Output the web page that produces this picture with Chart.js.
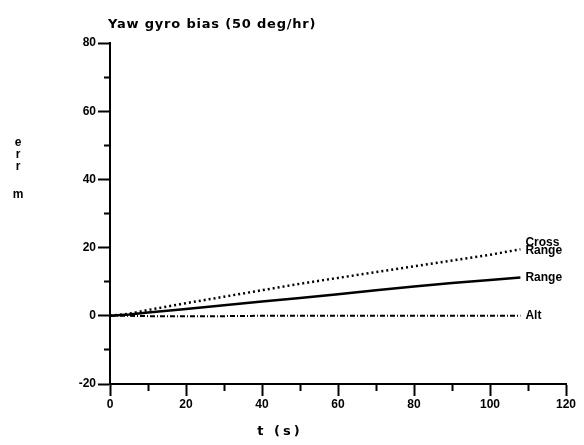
<!DOCTYPE html>
<html>
<head>
<meta charset="utf-8">
<script src="https://cdn.jsdelivr.net/npm/chart.js@4.4.1/dist/chart.umd.min.js"></script>
<style>
  * { margin: 0; padding: 0; box-sizing: border-box; }
  body { width: 584px; height: 445px; background: #fff; overflow: hidden; }
  .chart-box { position: relative; width: 584px; height: 445px; }
</style>
</head>
<body>
<div class="chart-box"><canvas id="chartCanvas" width="584" height="445"></canvas></div>
<script>
// time (s)
const times = [0, 5, 10, 20, 30, 40, 50, 60, 70, 80, 90, 100, 108];
// position error (m)
const crossRange = [0, 0.6, 1.7, 3.7, 5.6, 7.5, 9.4, 11.1, 12.8, 14.5, 16.2, 17.9, 19.5];
const range = [0, 0.4, 1.0, 2.0, 3.1, 4.2, 5.2, 6.3, 7.5, 8.6, 9.6, 10.5, 11.2];
const alt = [0, 0, -0.1, -0.1, -0.1, 0, 0, 0, 0, 0, 0, 0, 0];

const seriesNames = [['Cross', 'Range'], ['Range'], ['Alt']];
const titleText = 'Yaw gyro bias (50 deg/hr)';
const yTitleLetters = ['e', 'r', 'r', 'm'];
const xTitleText = 't (s)';

const FONT = '"Liberation Sans", Arial, sans-serif';

const toPoints = vals => vals.map((v, i) => ({x: times[i], y: v}));

// labels at the end of each line, title and axis titles
const textPlugin = {
  id: 'plotText',
  afterDraw(chart) {
    const ctx = chart.ctx;
    const xs = chart.scales.x;
    const ys = chart.scales.y;
    ctx.save();
    ctx.fillStyle = '#000';

    // line end labels
    ctx.font = 'bold 12px ' + FONT;
    ctx.textBaseline = 'middle';
    ctx.textAlign = 'left';
    chart.data.datasets.forEach((ds, i) => {
      const last = ds.data[ds.data.length - 1];
      const px = xs.getPixelForValue(last.x) + 5;
      const py = ys.getPixelForValue(last.y);
      const lines = seriesNames[i];
      if (lines.length === 2) {
        ctx.fillText(lines[0], px, py - 7);
        ctx.fillText(lines[1], px, py + 1);
      } else {
        ctx.fillText(lines[0], px, py);
      }
    });

    // title
    ctx.font = 'bold 13px "DejaVu Sans", sans-serif';
    ctx.letterSpacing = '0.8px';
    ctx.textBaseline = 'alphabetic';
    ctx.fillText(titleText, 108, 28);

    // y title, letters stacked
    ctx.letterSpacing = '0px';
    ctx.font = 'bold 12px ' + FONT;
    ctx.textAlign = 'center';
    ctx.textBaseline = 'middle';
    const offs = [0, 12, 24, 52];
    yTitleLetters.forEach((ch, i) => {
      ctx.fillText(ch, 18, 143 + offs[i]);
    });

    // x title
    ctx.font = 'bold 13px "DejaVu Sans", sans-serif';
    ctx.letterSpacing = '3px';
    ctx.fillText(xTitleText, 280, 432);
    ctx.restore();
  }
};

const isMinor = c => c.tick && c.tick.value % 20 !== 0;

new Chart(document.getElementById('chartCanvas'), {
  type: 'line',
  data: {
    datasets: [
      {
        label: 'Cross Range',
        data: toPoints(crossRange),
        borderColor: '#000',
        borderWidth: 2.5,
        borderDash: [2, 3],
        pointRadius: 0,
        tension: 0,
      },
      {
        label: 'Range',
        data: toPoints(range),
        borderColor: '#000',
        borderWidth: 2.5,
        pointRadius: 0,
        tension: 0,
      },
      {
        label: 'Alt',
        data: toPoints(alt),
        borderColor: '#000',
        borderWidth: 2,
        borderDash: [5, 2, 1, 2],
        pointRadius: 0,
        tension: 0,
      },
    ],
  },
  options: {
    responsive: false,
    animation: false,
    devicePixelRatio: 1,
    layout: {padding: {top: 43, right: 18, left: 0, bottom: 0}},
    plugins: {
      legend: {display: false},
      tooltip: {enabled: false},
      title: {display: false},
    },
    scales: {
      x: {
        type: 'linear',
        min: 0,
        max: 120,
        afterFit: s => { s.height = 61; },
        border: {color: '#000', width: 2},
        grid: {
          drawOnChartArea: false,
          drawTicks: true,
          tickLength: 12,
          tickColor: '#000',
          tickWidth: 2,
          tickBorderDash: c => (isMinor(c) ? [6, 100] : []),
        },
        ticks: {
          stepSize: 10,
          padding: 1,
          maxRotation: 0,
          autoSkip: false,
          color: '#000',
          font: {family: FONT, size: 12, weight: 'bold'},
          callback: v => (v % 20 === 0 ? v : ''),
        },
      },
      y: {
        min: -20,
        max: 80,
        afterFit: s => { s.width = 110; },
        border: {color: '#000', width: 2},
        grid: {
          drawOnChartArea: false,
          drawTicks: true,
          tickLength: 12,
          tickColor: '#000',
          tickWidth: 2,
          tickBorderDash: c => (isMinor(c) ? [0, 6, 6, 100] : []),
        },
        ticks: {
          stepSize: 10,
          padding: 2,
          autoSkip: false,
          color: '#000',
          font: {family: FONT, size: 12, weight: 'bold'},
          callback: v => (v % 20 === 0 ? v : ''),
        },
      },
    },
  },
  plugins: [textPlugin],
});
</script>
</body>
</html>
